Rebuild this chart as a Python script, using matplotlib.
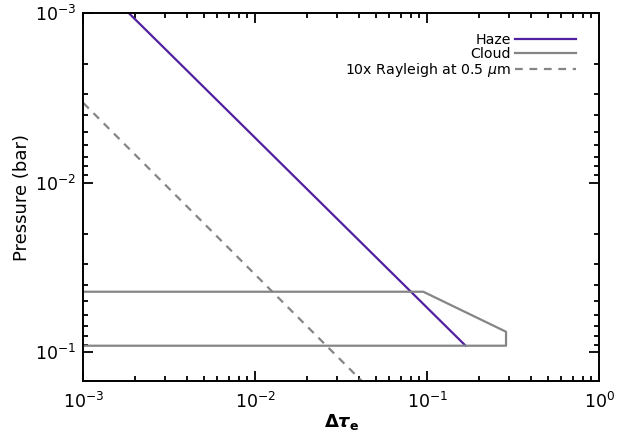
import numpy as np
import matplotlib
matplotlib.use('Agg')
import matplotlib.pyplot as plt
from matplotlib.ticker import LogLocator, NullFormatter

plt.rcParams['font.family'] = ['DejaVu Sans']
plt.rcParams['mathtext.fontset'] = 'dejavusans'

# curves (optical depth, pressure in bar)
haze_tau = [1.845e-3, 0.167]
haze_p = [1e-3, 0.0914]

cloud_tau = [1e-3, 0.0948, 0.287, 0.287, 1e-3]
cloud_p = [0.0439, 0.0439, 0.0756, 0.0914, 0.0914]

rayleigh_tau = [1e-3, 0.0416]
rayleigh_p = [3.38e-3, 0.1476]

haze_color = '#5120a0'
cloud_color = '#858585'

fig = plt.figure(figsize=(6.18, 4.42), dpi=100)
ax = fig.add_axes([0.1348, 0.138, 0.8349, 0.8319])

ax.plot(haze_tau, haze_p, color=haze_color, lw=1.6, label='Haze')
ax.plot(cloud_tau, cloud_p, color=cloud_color, lw=1.6, label='Cloud')
ax.plot(rayleigh_tau, rayleigh_p, color=cloud_color, lw=1.6, dashes=(3.5, 3),
        label=r'10x Rayleigh at 0.5 $\mu$m')

ax.set_xscale('log')
ax.set_yscale('log')
ax.set_xlim(1e-3, 1)
ax.set_ylim(0.1476, 1e-3)

ax.xaxis.set_major_locator(LogLocator(base=10, numticks=10))
ax.yaxis.set_major_locator(LogLocator(base=10, numticks=10))
ax.xaxis.set_minor_locator(LogLocator(base=10, subs=np.arange(2, 10), numticks=20))
ax.yaxis.set_minor_locator(LogLocator(base=10, subs=np.arange(2, 10), numticks=20))
ax.xaxis.set_minor_formatter(NullFormatter())
ax.yaxis.set_minor_formatter(NullFormatter())

ax.tick_params(which='both', direction='in', top=True, right=True, width=1.3,
               labelsize=12.5)
ax.tick_params(which='major', length=7.2)
ax.tick_params(axis='x', which='major', pad=8)
ax.tick_params(axis='y', which='major', pad=5)
ax.tick_params(which='minor', length=3.6)
for s in ax.spines.values():
    s.set_linewidth(1.4)

ax.set_xlabel(r'$\boldsymbol{\Delta\tau}_{\mathbf{e}}$', fontsize=13, labelpad=0)
ax.set_ylabel('Pressure (bar)', fontsize=13, labelpad=3)

ax.legend(loc='upper right', bbox_to_anchor=(0.955, 0.946), frameon=False,
          markerfirst=False, fontsize=10.2, handlelength=4.3, labelspacing=0.0,
          handletextpad=0.3, borderpad=0, borderaxespad=0)

fig.savefig('out.png', dpi=100)
